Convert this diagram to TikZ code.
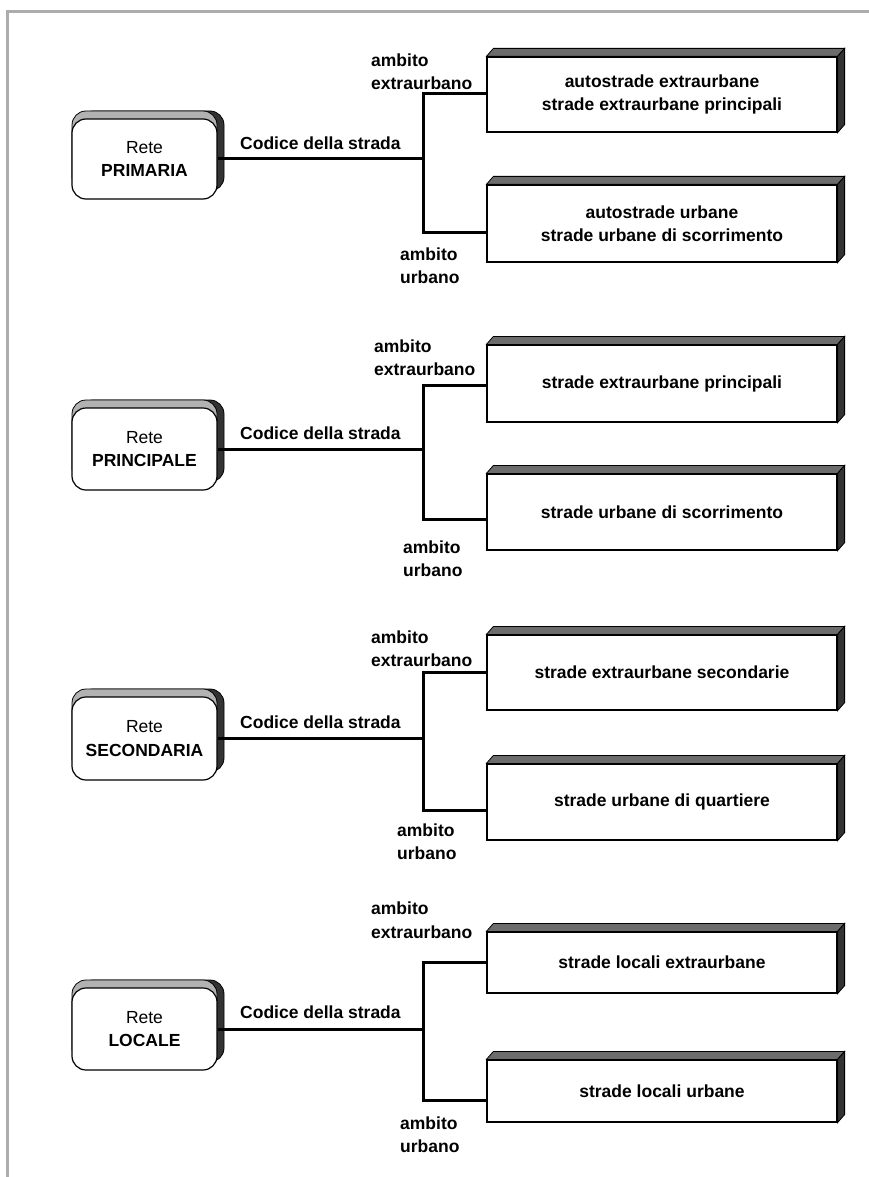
\documentclass[tikz,border=0pt]{standalone}
\usepackage{fontspec}
\setmainfont{Liberation Sans}
\newcommand{\txtsize}{\fontsize{17.5}{23.5}\selectfont}
\tikzset{
  rete/.style={font=\txtsize, draw, line width=1.2pt, fill=white, rounded corners=14pt,
    minimum width=145pt, minimum height=82pt, align=center, inner sep=0pt,
    preaction={draw, line width=0.8pt, fill=black!80, transform canvas={shift={(7pt,8pt)}}},
    preaction={draw, line width=0.8pt, fill=gray!60, transform canvas={shift={(0pt,8pt)}}}},
  strada/.style={font=\txtsize\bfseries, draw, line width=1.2pt, fill=white,
    minimum width=350pt, align=center, inner sep=0pt},
  ambito/.style={font=\txtsize\bfseries, align=left, anchor=west, inner sep=0pt},
  codice/.style={font=\txtsize\bfseries, anchor=west, inner sep=0pt},
  link/.style={line width=3pt},
  topface/.style={draw=black, line width=0.8pt, left color=gray!85!black, middle color=gray!45, right color=gray!85!black},
  sideface/.style={draw=black, line width=0.8pt, fill=black!80},
  frame/.style={draw=gray!65, line width=3pt}
}
\begin{document}
\begin{tikzpicture}[x=1pt,y=-1pt]
  \useasboundingbox (0,0) rectangle (869,1177);
  \draw[frame] (7,1177) |- (869,12);

  % rete primaria
  \node[rete, minimum height=80pt] (r1) at (144.5,159) {Rete\\\textbf{PRIMARIA}};
  \node[strada, minimum height=75pt] (e1) at (662,94.5) {autostrade extraurbane\\strade extraurbane principali};
  \node[strada, minimum height=77pt] (u1) at (662,223.5) {autostrade urbane\\strade urbane di scorrimento};
  \node[codice] (c1) at (240,143) {Codice della strada};
  \node[ambito] (ae1) at (371,71.5) {ambito\\extraurbano};
  \node[ambito] (au1) at (400,265.5) {ambito\\urbano};
  \coordinate (t1) at (423,94);
  \coordinate (b1) at (423,232);

  % rete principale
  \node[rete] (r2) at (144.5,449) {Rete\\\textbf{PRINCIPALE}};
  \node[strada, minimum height=77pt] (e2) at (662,383.5) {strade extraurbane principali};
  \node[strada, minimum height=76pt] (u2) at (662,512) {strade urbane di scorrimento};
  \node[codice] (c2) at (240,433) {Codice della strada};
  \node[ambito] (ae2) at (374,357.5) {ambito\\extraurbano};
  \node[ambito] (au2) at (403,558.5) {ambito\\urbano};
  \coordinate (t2) at (423,385);
  \coordinate (b2) at (423,519);

  % rete secondaria
  \node[rete, minimum height=83pt] (r3) at (144.5,738.5) {Rete\\\textbf{SECONDARIA}};
  \node[strada, minimum height=75pt] (e3) at (662,672.5) {strade extraurbane secondarie};
  \node[strada, minimum height=76pt] (u3) at (662,802) {strade urbane di quartiere};
  \node[codice] (c3) at (240,722) {Codice della strada};
  \node[ambito] (ae3) at (371,648.5) {ambito\\extraurbano};
  \node[ambito] (au3) at (397,841.5) {ambito\\urbano};
  \coordinate (t3) at (423,672);
  \coordinate (b3) at (423,810);

  % rete locale
  \node[rete] (r4) at (144.5,1029) {Rete\\\textbf{LOCALE}};
  \node[strada, minimum height=61pt] (e4) at (662,962.5) {strade locali extraurbane};
  \node[strada, minimum height=62pt] (u4) at (662,1091) {strade locali urbane};
  \node[codice] (c4) at (240,1012) {Codice della strada};
  \node[ambito] (ae4) at (371,920) {ambito\\extraurbano};
  \node[ambito] (au4) at (400,1134.5) {ambito\\urbano};
  \coordinate (t4) at (423,962);
  \coordinate (b4) at (423,1100);

  % facce dei blocchi
  \foreach \b in {e1,u1,e2,u2,e3,u3,e4,u4} {
    \shade[topface] (\b.north west) -- ++(7,-8) -- ([shift={(7,-8)}]\b.north east) -- (\b.north east) -- cycle;
    \fill[sideface] (\b.north east) -- ++(7,-8) -- ([shift={(7,-8)}]\b.south east) -- (\b.south east) -- cycle;
  }

  % collegamenti
  \foreach \i in {1,2,3,4} {
    \draw[link] (r\i) -- (r\i -| t\i);
    \draw[link] (e\i.west |- t\i) -- (t\i) -- (b\i) -- (u\i.west |- b\i);
  }
\end{tikzpicture}
\end{document}
